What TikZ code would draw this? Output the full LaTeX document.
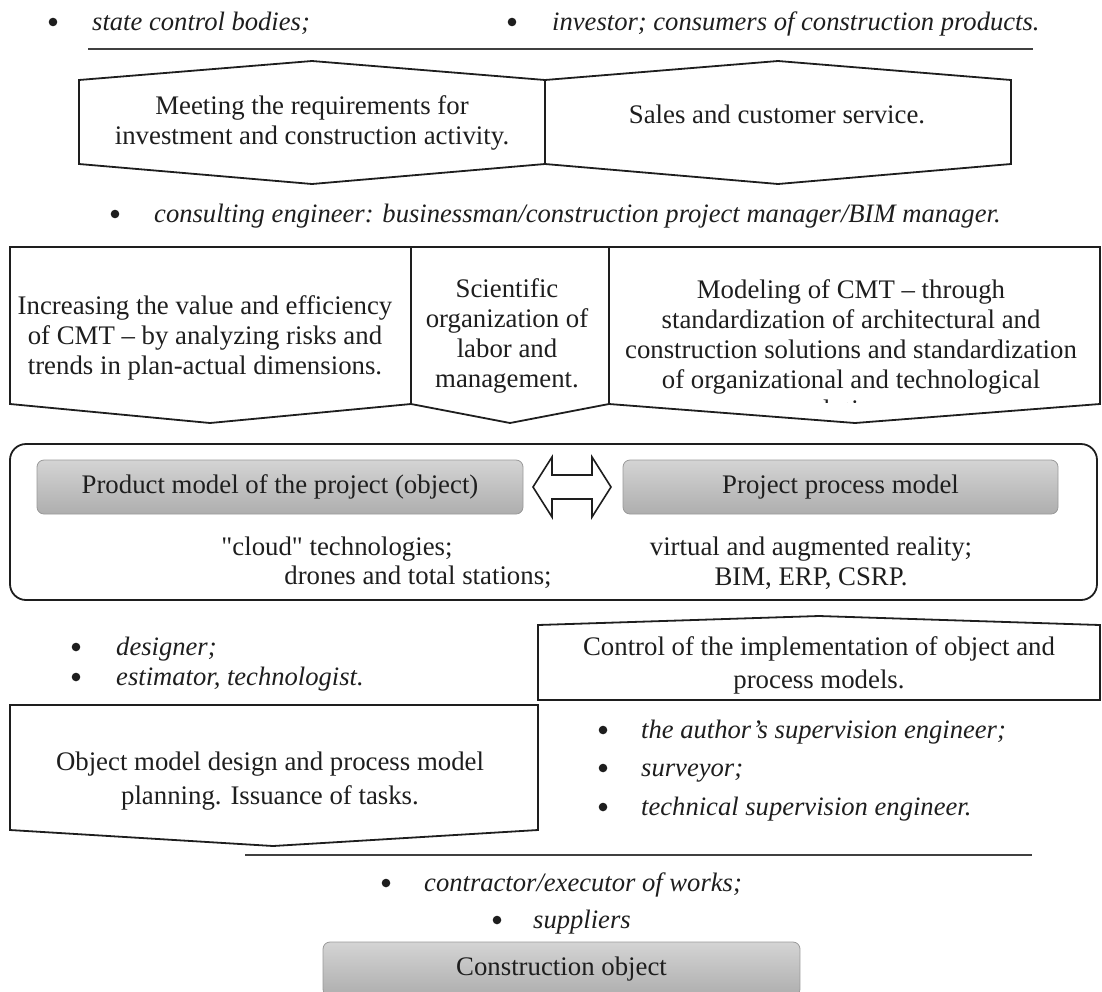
\documentclass[tikz,border=0pt]{standalone}
\usepackage{fontspec}
\setmainfont{Liberation Serif}
\definecolor{ink}{RGB}{30,30,30}
\definecolor{gtop}{RGB}{212,212,212}
\definecolor{gbot}{RGB}{174,174,174}
\begin{document}
\begin{tikzpicture}[x=1pt,y=-1pt,
  outline/.style={draw=ink, line width=1.8pt, line join=miter},
  sepline/.style={draw=ink!85, line width=1.3pt},
  dot/.style={fill=ink},
  txt/.style={font=\fontsize{26.8}{30}\selectfont, align=center, inner sep=0pt, text=ink},
  item/.style={font=\fontsize{26.6}{30}\selectfont\itshape, anchor=base west, inner sep=0pt, text=ink},
  graybox/.style={draw=black!40, line width=0.8pt, rounded corners=7pt, top color=gtop, bottom color=gbot,
    font=\fontsize{26.8}{30}\selectfont, text=ink, inner sep=0pt}]
\useasboundingbox (0,0) rectangle (1102,991);

% top participants
\fill[dot] (53,22) circle (4.3pt);
\node[item] (b1) at (92,30) {state control bodies;};
\fill[dot] (512,22) circle (4.3pt);
\node[item] (b2) at (552,30) {investor; consumers of construction products.};
\draw[sepline] (88,49) -- (1033,49);

% hexagons
\draw[outline] (79,80) -- (312,61) -- (545,80) -- (545,164) -- (312,184) -- (79,164) -- cycle;
\draw[outline] (545,80) -- (778,61) -- (1011,80) -- (1011,164) -- (778,184) -- (545,164) -- cycle;
\node[txt] (h1) at (312,123) {Meeting the requirements for\\investment and construction activity.};
\node[txt] (h2) at (777,114) {Sales and customer service.};

\fill[dot] (115,214) circle (4.3pt);
\node[item] (b3) at (154,222) {consulting engineer: businessman/construction project manager/BIM manager.};

% row of three pentagons
\draw[outline] (10,247) -- (411,247) -- (411,404) -- (210,423) -- (10,404) -- cycle;
\draw[outline] (411,247) -- (609,247) -- (609,404) -- (510,423) -- (411,404) -- cycle;
\draw[outline] (609,247) -- (1100,247) -- (1100,404) -- (855,423) -- (609,404) -- cycle;
\node[txt] (p1) at (205,338) {Increasing the value and efficiency\\of CMT – by analyzing risks and\\trends in plan-actual dimensions.};
\node[txt] (p2) at (507,336) {Scientific\\organization of\\labor and\\management.};
\begin{scope}
\clip (611,250) rectangle (1098,402);
\node[txt] (p3) at (851,349.5) {Modeling of CMT – through\\standardization of architectural and\\construction solutions and standardization\\of organizational and technological\\solutions.};
\end{scope}

% models frame
\draw[outline, rounded corners=16pt] (10,444) rectangle (1097,600);
\node[graybox, minimum width=486pt, minimum height=54pt] (pm) at (280,487) {Product model of the project (object)};
\node[graybox, minimum width=435pt, minimum height=54pt] (pr) at (840.5,487) {Project process model};
\draw[outline, line width=1.6pt, fill=white] (533,487) -- (552,457) -- (552,475) -- (592,475) -- (592,457) -- (611,487)
  -- (592,517) -- (592,499) -- (552,499) -- (552,517) -- cycle;
\node[txt] (c1) at (337,549) {{\addfontfeatures{Ligatures=TeXOff}"cloud"} technologies;};
\node[txt] (c2) at (418,577) {drones and total stations;};
\node[txt] (c3) at (811,563) {virtual and augmented reality;\\BIM, ERP, CSRP.};

% control
\draw[outline] (538,625) -- (819,616) -- (1100,625) -- (1100,700) -- (538,700) -- cycle;
\node[txt, font=\fontsize{26.8}{33}\selectfont] (ctl) at (819,665) {Control of the implementation of object and\\process models.};
\fill[dot] (76,647) circle (4.3pt);
\node[item] (d1) at (116,655) {designer;};
\fill[dot] (76,677) circle (4.3pt);
\node[item] (d2) at (116,685) {estimator, technologist.};

% design
\draw[outline] (10,705) -- (538,705) -- (538,830) -- (273,846) -- (10,830) -- cycle;
\node[txt, font=\fontsize{26.8}{34}\selectfont] (om) at (270,781) {Object model design and process model\\planning. Issuance of tasks.};
\fill[dot] (603,730) circle (4.3pt);
\node[item] (s1) at (641,738) {the author's supervision engineer;};
\fill[dot] (603,768) circle (4.3pt);
\node[item] (s2) at (641,776) {surveyor;};
\fill[dot] (603,807) circle (4.3pt);
\node[item] (s3) at (641,815) {technical supervision engineer.};

% bottom
\draw[sepline] (245,855) -- (1032,855);
\fill[dot] (386,883) circle (4.3pt);
\node[item] (e1) at (424,891) {contractor/executor of works;};
\fill[dot] (497,920) circle (4.3pt);
\node[item] (e2) at (533,928) {suppliers};
\node[graybox, minimum width=477pt, minimum height=54pt] (co) at (561.5,969) {Construction object};
\end{tikzpicture}
\end{document}
